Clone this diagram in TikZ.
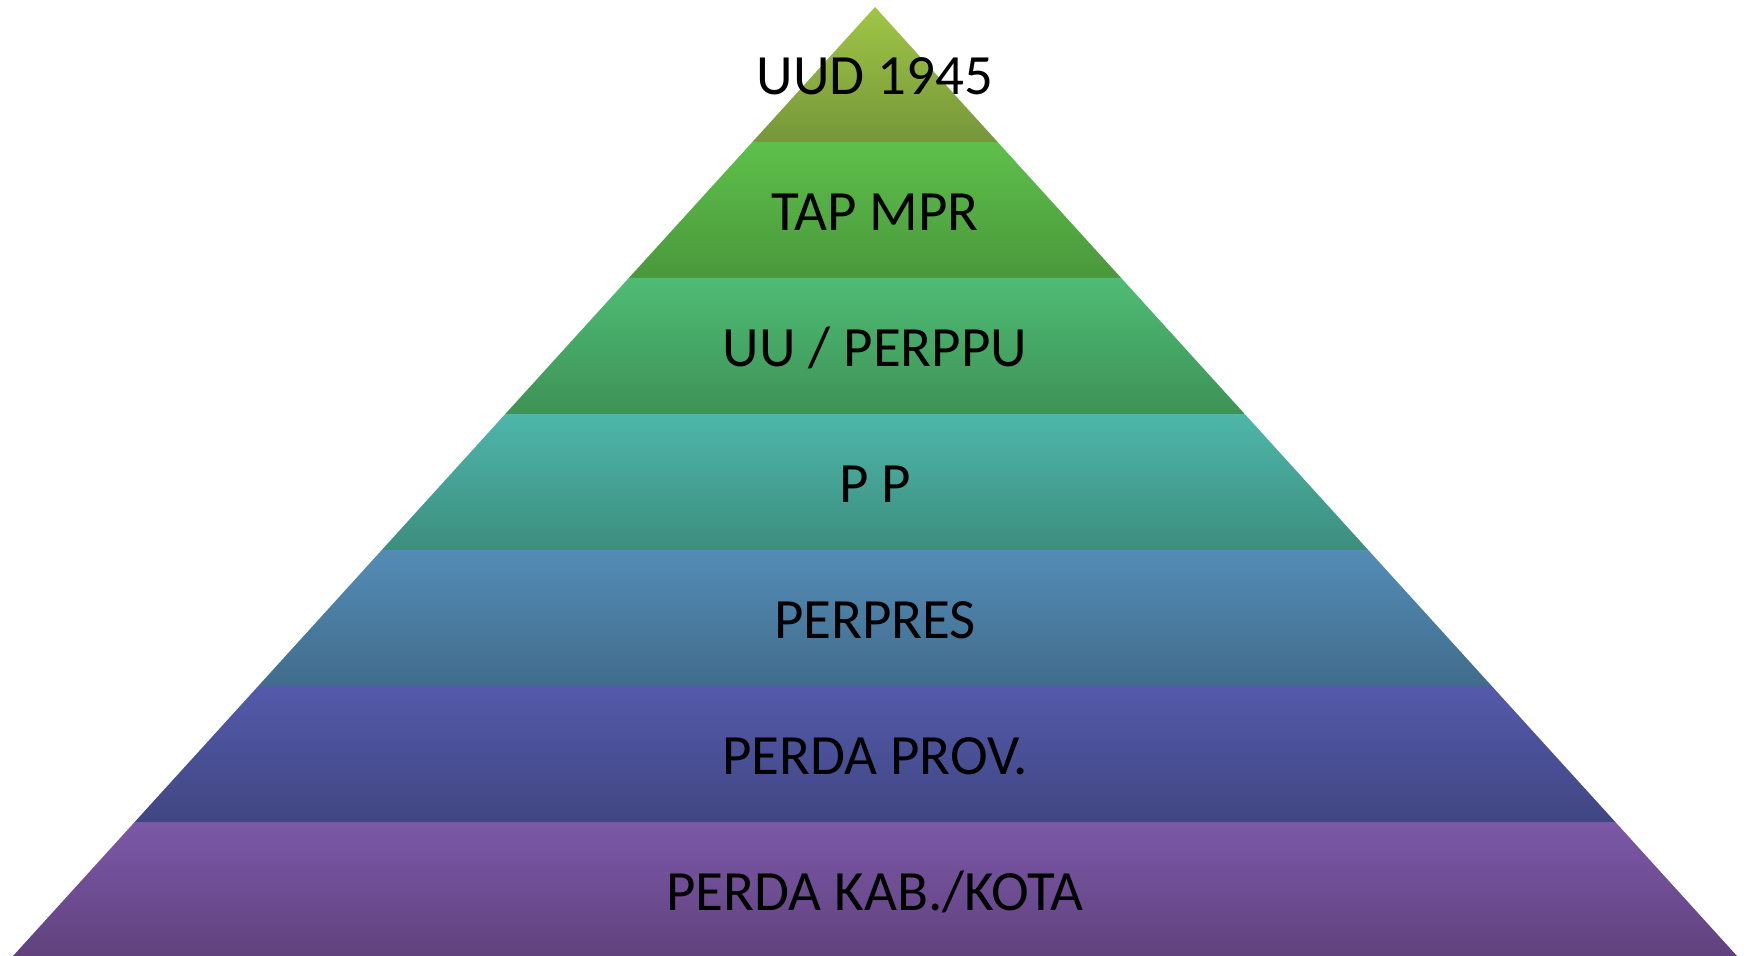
\documentclass[tikz,border=0pt]{standalone}
\usepackage{fontspec}
\setmainfont{Carlito}
\begin{document}
\begin{tikzpicture}[x=0.02cm,y=-0.02cm,
  lbl/.style={font=\fontsize{32.4}{38}\selectfont, text=black, inner sep=0pt}]
\useasboundingbox (0,0) rectangle (1748,956);
% layers
\shade[top color={rgb,255:red,160;green,198;blue,70}, bottom color={rgb,255:red,118;green,150;blue,58}]
  (875,7) -- (997.6,142) -- (752.4,142) -- cycle;
\shade[top color={rgb,255:red,94;green,192;blue,74}, bottom color={rgb,255:red,74;green,152;blue,60}]
  (752.4,142) -- (997.6,142) -- (1121.2,278) -- (628.8,278) -- cycle;
\shade[top color={rgb,255:red,78;green,188;blue,116}, bottom color={rgb,255:red,62;green,146;blue,86}]
  (628.8,278) -- (1121.2,278) -- (1244.7,414) -- (505.3,414) -- cycle;
\shade[top color={rgb,255:red,78;green,182;blue,170}, bottom color={rgb,255:red,60;green,142;blue,126}]
  (505.3,414) -- (1244.7,414) -- (1368.2,550) -- (381.8,550) -- cycle;
\shade[top color={rgb,255:red,84;green,140;blue,182}, bottom color={rgb,255:red,64;green,108;blue,140}]
  (381.8,550) -- (1368.2,550) -- (1491.7,686) -- (258.3,686) -- cycle;
\shade[top color={rgb,255:red,84;green,90;blue,170}, bottom color={rgb,255:red,64;green,70;blue,130}]
  (258.3,686) -- (1491.7,686) -- (1615.3,822) -- (134.7,822) -- cycle;
\shade[top color={rgb,255:red,124;green,88;blue,168}, bottom color={rgb,255:red,96;green,66;blue,126}]
  (134.7,822) -- (1615.3,822) -- (1737,956) -- (13,956) -- cycle;
% labels
\node[lbl] (l1) at (875,76) {UUD 1945};
\node[lbl] (l2) at (875,212) {TAP MPR};
\node[lbl] (l3) at (875,348) {UU / PERPPU};
\node[lbl] (l4) at (875,484) {P P};
\node[lbl] (l5) at (875,620) {PERPRES};
\node[lbl] (l6) at (875,756) {PERDA PROV.};
\node[lbl] (l7) at (875,892) {PERDA KAB./KOTA};
\end{tikzpicture}
\end{document}
